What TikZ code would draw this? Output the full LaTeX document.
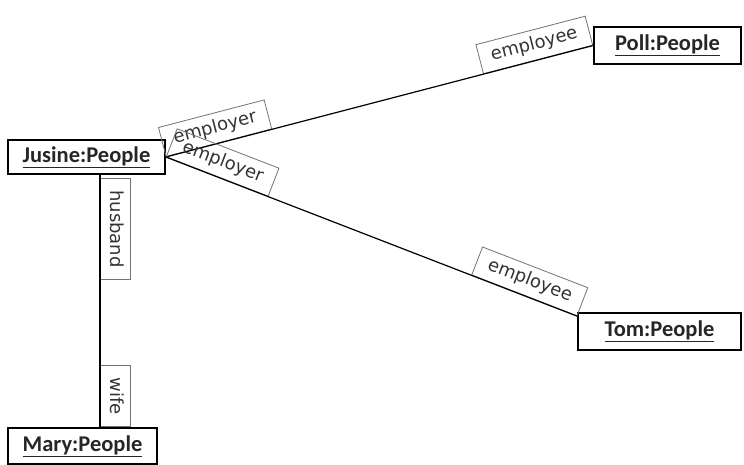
\documentclass[tikz,border=0pt]{standalone}
\usepackage{fontspec}
\setmainfont{DejaVu Sans}
\newfontfamily\classfont{Carlito}
\usetikzlibrary{positioning}
\tikzset{
    objbox/.style={draw=black, line width=1.6pt, fill=white, inner sep=0pt,
        font=\classfont\bfseries\fontsize{22.5}{27}\selectfont, text=black!85},
    rolebox/.style={draw=black!55, line width=0.8pt, behind path,
        inner xsep=12pt, inner ysep=6pt, text height=13.5pt, text depth=4.5pt,
        font=\fontsize{18}{21}\selectfont, text=black!80},
    assoc/.style={line width=1.2pt}
}

\begin{document}
\begin{tikzpicture}[x=1pt,y=-1pt]
            \useasboundingbox (0,0) rectangle (744,464);
            % objects
            \node[objbox, minimum width=157pt, minimum height=34pt] (Jusine) at (86.5,157) {\underline{Jusine:People}};
            \node[objbox, minimum width=147pt, minimum height=37pt] (Poll) at (667.5,45.5) {\underline{Poll:People}};
            \node[objbox, minimum width=163pt, minimum height=37pt] (Tom) at (659.5,331.5) {\underline{Tom:People}};
            \node[objbox, minimum width=149pt, minimum height=36pt] (Mary) at (82.5,446) {\underline{Mary:People}};
            \coordinate (spine) at (100,300);

            % links
            \draw[assoc] (Jusine.east) -- (Poll.west)
                node[rolebox, sloped, anchor=south west, pos=0] {employer}
                node[rolebox, sloped, anchor=south east, pos=1] {employee};
            \draw[assoc] (Jusine.east) -- ([yshift=-4pt]Tom.north west)
                node[rolebox, sloped, anchor=south west, pos=0] {employer}
                node[rolebox, sloped, anchor=south east, pos=1] {employee};
            \draw[assoc] (Jusine.south -| spine) -- (Mary.north -| spine)
                node[rolebox, rotate=-90, anchor=south west, pos=0, xshift=3pt] {husband}
                node[rolebox, rotate=-90, anchor=south east, pos=1] {wife};
\end{tikzpicture}
\end{document}
